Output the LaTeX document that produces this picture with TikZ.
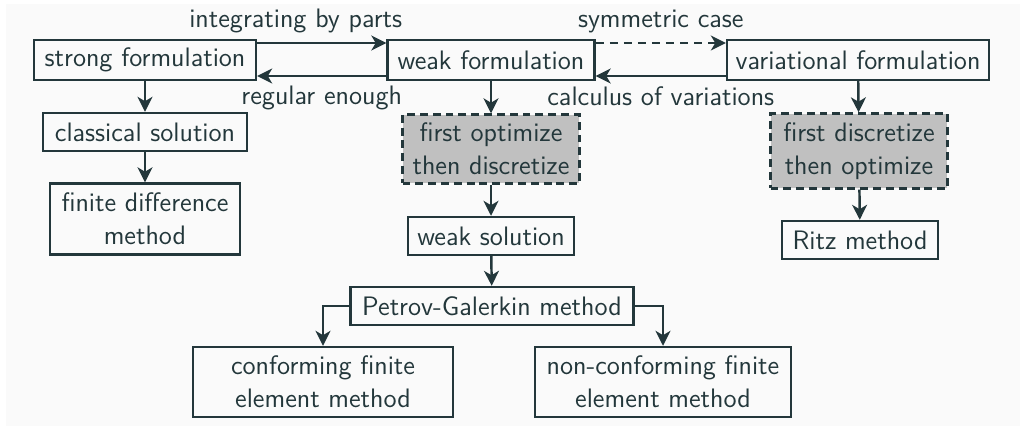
\documentclass[tikz,border=0pt]{standalone}
\usetikzlibrary{arrows.meta}
\definecolor{darkteal}{HTML}{23373B}
\definecolor{bggray}{HTML}{FAFAFA}
\definecolor{boxgray}{HTML}{C0C0C0}

\begin{document}
\begin{tikzpicture}[x=0.02cm,y=-0.02cm,line width=1.4pt,darkteal,
  font=\sffamily\fontsize{15.2}{19}\selectfont,>={Stealth[length=8.5pt,width=8.5pt,inset=2.5pt]}]
\tikzstyle{box} = [draw,shape=rectangle,inner sep=0pt,align=center]
\tikzstyle{idea} = [box,fill=boxgray,dash pattern=on 4.5pt off 2.8pt]
\tikzstyle{lbl} = [draw=none,inner sep=0pt]
\fill[white] (0,0) rectangle (1020,426);
\fill[bggray] (6,4) rectangle (1020,426);
\useasboundingbox (0,0) rectangle (1020,426);
\node[box,minimum width=4.44cm,minimum height=0.8cm] (strong) at (145,60) {strong formulation};
\node[box,minimum width=4.14cm,minimum height=0.8cm] (weak) at (491,60) {weak formulation};
\node[box,minimum width=5.24cm,minimum height=0.8cm] (var) at (858,60) {variational formulation};
\node[box,minimum width=4.08cm,minimum height=0.76cm] (classic) at (145,132) {classical solution};
\node[box,minimum width=3.8cm,minimum height=1.42cm] (fdm) at (145,219) {finite difference\\method};
\node[idea,minimum width=3.54cm,minimum height=1.38cm] (optdisc) at (491,149) {first optimize\\then discretize};
\node[box,minimum width=3.32cm,minimum height=0.76cm] (wsol) at (491,236) {weak solution};
\node[idea,minimum width=3.54cm,minimum height=1.5cm] (discopt) at (859,151) {first discretize\\then optimize};
\node[box,minimum width=3.12cm,minimum height=0.76cm] (ritz) at (860,240) {Ritz method};
\node[box,minimum width=5.66cm,minimum height=0.76cm] (pg) at (492,306) {Petrov-Galerkin method};
\node[box,minimum width=5.2cm,minimum height=1.4cm] (cfem) at (323,382) {conforming finite\\element method};
\node[box,minimum width=5.12cm,minimum height=1.4cm] (ncfem) at (663,382) {non-conforming finite\\element method};
% top row
\draw [->] ([yshift=0.34cm]strong.east) -- ([yshift=0.34cm]weak.west)
  node [lbl,midway,above=0.18cm,xshift=-0.52cm] {integrating by parts};
\draw [->] ([yshift=-0.32cm]weak.west) -- ([yshift=-0.32cm]strong.east)
  node [lbl,midway,below=0.18cm] {regular enough};
\draw [->,dash pattern=on 4.5pt off 3.5pt] ([yshift=0.34cm]weak.east) -- ([yshift=0.34cm]var.west)
  node [lbl,midway,above=0.18cm] {symmetric case};
\draw [->] ([yshift=-0.32cm]var.west) -- ([yshift=-0.32cm]weak.east)
  node [lbl,midway,below=0.18cm] {calculus of variations};
% columns
\draw [->] (strong) -- (classic);
\draw [->] (classic) -- (fdm);
\draw [->] (weak) -- (optdisc);
\draw [->] (optdisc) -- (wsol);
\draw [->] (wsol) -- (pg);
\draw [->] (var) -- (discopt);
\draw [->] (discopt) -- (ritz);
\draw [->] (pg.west) -| (cfem.north);
\draw [->] (pg.east) -| (ncfem.north);
\end{tikzpicture}
\end{document}
